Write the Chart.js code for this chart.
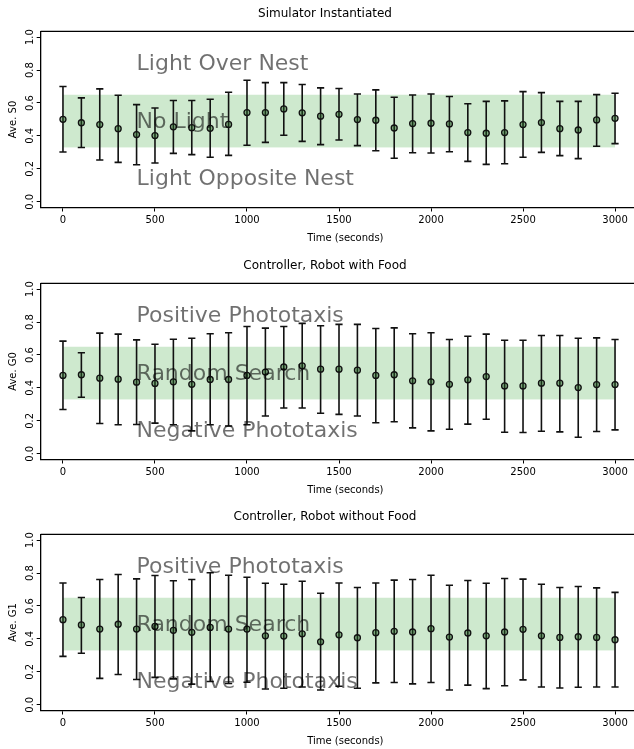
<!DOCTYPE html>
<html>
<head>
<meta charset="utf-8">
<script src="https://cdn.jsdelivr.net/npm/chart.js@4.4.0/dist/chart.umd.min.js"></script>
<style>
  body { margin: 0; width: 634px; height: 749px; overflow: hidden; background: #fff; position: relative; }
  .panel { position: absolute; left: 0; width: 690px; height: 250px; }
</style>
</head>
<body>
<div class="panel" style="top:-2px"><canvas id="chartS0" width="690" height="250"></canvas></div>
<div class="panel" style="top:250px"><canvas id="chartG0" width="690" height="250"></canvas></div>
<div class="panel" style="top:501px"><canvas id="chartG1" width="690" height="250"></canvas></div>
<script>
// time points (seconds)
let times = [0, 100, 200, 300, 400, 500, 600, 700, 800, 900, 1000, 1100, 1200, 1300, 1400, 1500,
    1600, 1700, 1800, 1900, 2000, 2100, 2200, 2300, 2400, 2500, 2600, 2700, 2800, 2900, 3000]
let xTicks = [0, 500, 1000, 1500, 2000, 2500, 3000]
let yTicks = [0.0, 0.2, 0.4, 0.6, 0.8, 1.0]

// Simulator Instantiated (Ave. S0)
let s0Mean = [0.501, 0.48, 0.469, 0.444, 0.408, 0.402, 0.455, 0.45, 0.446, 0.47, 0.542, 0.542, 0.564, 0.54, 0.52, 0.531,
    0.499, 0.495, 0.448, 0.475, 0.477, 0.473, 0.42, 0.416, 0.42, 0.469, 0.481, 0.444, 0.436, 0.497, 0.507]
let s0High = [0.70, 0.631, 0.686, 0.647, 0.59, 0.57, 0.615, 0.615, 0.623, 0.665, 0.738, 0.724, 0.724, 0.712, 0.692, 0.688,
    0.655, 0.68, 0.635, 0.649, 0.655, 0.639, 0.595, 0.61, 0.613, 0.669, 0.663, 0.61, 0.61, 0.651, 0.659]
let s0Low = [0.302, 0.33, 0.254, 0.239, 0.225, 0.235, 0.294, 0.286, 0.27, 0.282, 0.343, 0.361, 0.404, 0.367, 0.347, 0.375,
    0.341, 0.31, 0.264, 0.298, 0.296, 0.304, 0.245, 0.227, 0.231, 0.27, 0.30, 0.28, 0.262, 0.337, 0.353]

// Controller, Robot with Food (Ave. G0)
let g0Mean = [0.476, 0.48, 0.459, 0.453, 0.435, 0.427, 0.437, 0.422, 0.451, 0.451, 0.476, 0.496, 0.527, 0.534, 0.514, 0.514,
    0.508, 0.476, 0.48, 0.443, 0.437, 0.422, 0.449, 0.469, 0.412, 0.412, 0.429, 0.429, 0.402, 0.42, 0.42]
let g0High = [0.684, 0.614, 0.733, 0.727, 0.692, 0.665, 0.696, 0.702, 0.729, 0.735, 0.773, 0.763, 0.773, 0.792, 0.778, 0.786,
    0.786, 0.761, 0.765, 0.729, 0.735, 0.694, 0.714, 0.727, 0.69, 0.69, 0.718, 0.718, 0.702, 0.704, 0.694]
let g0Low = [0.269, 0.343, 0.184, 0.176, 0.178, 0.186, 0.176, 0.139, 0.176, 0.169, 0.176, 0.229, 0.278, 0.278, 0.246, 0.239,
    0.229, 0.188, 0.194, 0.157, 0.139, 0.149, 0.18, 0.21, 0.131, 0.129, 0.137, 0.133, 0.10, 0.135, 0.145]

// Controller, Robot without Food (Ave. G1)
let g1Mean = [0.517, 0.485, 0.46, 0.489, 0.46, 0.476, 0.452, 0.44, 0.47, 0.46, 0.46, 0.419, 0.417, 0.431, 0.382, 0.425,
    0.407, 0.438, 0.446, 0.442, 0.462, 0.411, 0.436, 0.419, 0.442, 0.458, 0.419, 0.409, 0.413, 0.409, 0.395]
let g1High = [0.74, 0.652, 0.761, 0.791, 0.765, 0.785, 0.753, 0.761, 0.802, 0.787, 0.775, 0.738, 0.732, 0.75, 0.677, 0.74,
    0.712, 0.74, 0.757, 0.761, 0.787, 0.726, 0.755, 0.738, 0.767, 0.763, 0.732, 0.712, 0.718, 0.71, 0.683]
let g1Low = [0.294, 0.313, 0.16, 0.184, 0.153, 0.166, 0.157, 0.125, 0.141, 0.129, 0.137, 0.096, 0.10, 0.108, 0.09, 0.112,
    0.10, 0.133, 0.135, 0.127, 0.135, 0.09, 0.119, 0.098, 0.115, 0.151, 0.108, 0.102, 0.106, 0.108, 0.108]

// shaded "middle" band and the region labels
let bandLow = 0.33
let bandHigh = 0.65
let bandStart = 0
let bandEnd = 3000
let simNotes = ['Light Over Nest', 'No Light', 'Light Opposite Nest']
let ctrlNotes = ['Positive Phototaxis', 'Random Search', 'Negative Phototaxis']
let noteLevels = [0.8, 0.45, 0.1]
let noteTime = 400

let corBanda = 'rgba(44, 160, 44, 0.23)'
let corNota = 'rgba(0, 0, 0, 0.56)'
let corBarra = '#111'

Chart.defaults.font.family = "'DejaVu Sans', sans-serif"
Chart.defaults.color = '#000'

function makePanel(canvasId, titulo, yLabel, mean, low, high, notes) {
    const ctx = document.getElementById(canvasId).getContext('2d')

    // band, error bars, notes and top spine
    let extras = {
        id: 'extras_' + canvasId,
        beforeDatasetsDraw(chart) {
            let c = chart.ctx
            let x = chart.scales.x
            let y = chart.scales.y
            c.save()
            c.fillStyle = corBanda
            let bx0 = x.getPixelForValue(bandStart)
            let bx1 = x.getPixelForValue(bandEnd)
            let by0 = y.getPixelForValue(bandHigh)
            let by1 = y.getPixelForValue(bandLow)
            c.fillRect(bx0, by0, bx1 - bx0, by1 - by0)

            c.strokeStyle = corBarra
            c.lineWidth = 1.6
            for (let i = 0; i < times.length; i++) {
                let px = x.getPixelForValue(times[i])
                let top = y.getPixelForValue(high[i])
                let bot = y.getPixelForValue(low[i])
                c.beginPath()
                c.moveTo(px, top)
                c.lineTo(px, bot)
                c.moveTo(px - 3.6, top)
                c.lineTo(px + 3.6, top)
                c.moveTo(px - 3.6, bot)
                c.lineTo(px + 3.6, bot)
                c.stroke()
            }
            c.restore()
        },
        afterDatasetsDraw(chart) {
            let c = chart.ctx
            let x = chart.scales.x
            let y = chart.scales.y
            let area = chart.chartArea
            c.save()
            c.font = "22px 'DejaVu Sans'"
            c.fillStyle = corNota
            c.textAlign = 'left'
            c.textBaseline = 'alphabetic'
            for (let i = 0; i < notes.length; i++) {
                c.fillText(notes[i], x.getPixelForValue(noteTime), y.getPixelForValue(noteLevels[i]))
            }
            c.strokeStyle = '#000'
            c.lineWidth = 1.3
            c.beginPath()
            c.moveTo(area.left, area.top)
            c.lineTo(area.right, area.top)
            c.stroke()
            c.restore()
        }
    }

    let pontos = []
    for (let i = 0; i < times.length; i++) {
        pontos.push({ x: times[i], y: mean[i] })
    }

    return new Chart(ctx, {
        type: 'scatter',
        data: {
            datasets: [{
                label: yLabel,
                data: pontos,
                pointRadius: 3,
                borderWidth: 1.3,
                borderColor: corBarra,
                backgroundColor: 'rgba(30, 90, 30, 0.45)'
            }]
        },
        options: {
            responsive: false,
            animation: false,
            devicePixelRatio: 1,
            layout: { padding: { left: 0, right: 40, top: 0, bottom: 0 } },
            plugins: {
                legend: { display: false },
                tooltip: { enabled: false },
                title: {
                    display: true,
                    text: titulo,
                    color: '#000',
                    font: { size: 12, weight: 'normal' },
                    padding: { top: 9, bottom: 10 }
                }
            },
            scales: {
                x: {
                    type: 'linear',
                    min: -121,
                    max: 3190,
                    afterFit: function (scale) { scale.height = 40.5 },
                    afterBuildTicks: function (scale) {
                        scale.ticks = xTicks.map(function (v) { return { value: v } })
                    },
                    ticks: {
                        font: { size: 10 },
                        color: '#000',
                        padding: 3,
                        maxRotation: 0,
                        autoSkip: false,
                        callback: function (v) { return String(v) }
                    },
                    grid: {
                        drawOnChartArea: false,
                        drawTicks: true,
                        tickLength: 4,
                        tickColor: '#000',
                        tickWidth: 1
                    },
                    border: { display: true, color: '#000', width: 1.3 },
                    title: {
                        display: true,
                        text: 'Time (seconds)',
                        font: { size: 10 },
                        color: '#000',
                        padding: { top: 2, bottom: 4 }
                    }
                },
                y: {
                    min: -0.035,
                    max: 1.035,
                    afterFit: function (scale) { scale.width = 40.7 },
                    afterBuildTicks: function (scale) {
                        scale.ticks = yTicks.map(function (v) { return { value: v } })
                    },
                    ticks: {
                        font: { size: 10 },
                        color: '#000',
                        minRotation: 90,
                        maxRotation: 90,
                        crossAlign: 'center',
                        padding: -2,
                        autoSkip: false,
                        callback: function (v) { return v.toFixed(1) }
                    },
                    grid: {
                        drawOnChartArea: false,
                        drawTicks: true,
                        tickLength: 4,
                        tickColor: '#000',
                        tickWidth: 1
                    },
                    border: { display: true, color: '#000', width: 1.3 },
                    title: {
                        display: true,
                        text: yLabel,
                        font: { size: 10 },
                        color: '#000',
                        padding: { top: 7, bottom: 0 }
                    }
                }
            }
        },
        plugins: [extras]
    })
}

makePanel('chartS0', 'Simulator Instantiated', 'Ave. S0', s0Mean, s0Low, s0High, simNotes)
makePanel('chartG0', 'Controller, Robot with Food', 'Ave. G0', g0Mean, g0Low, g0High, ctrlNotes)
makePanel('chartG1', 'Controller, Robot without Food', 'Ave. G1', g1Mean, g1Low, g1High, ctrlNotes)
</script>
</body>
</html>
